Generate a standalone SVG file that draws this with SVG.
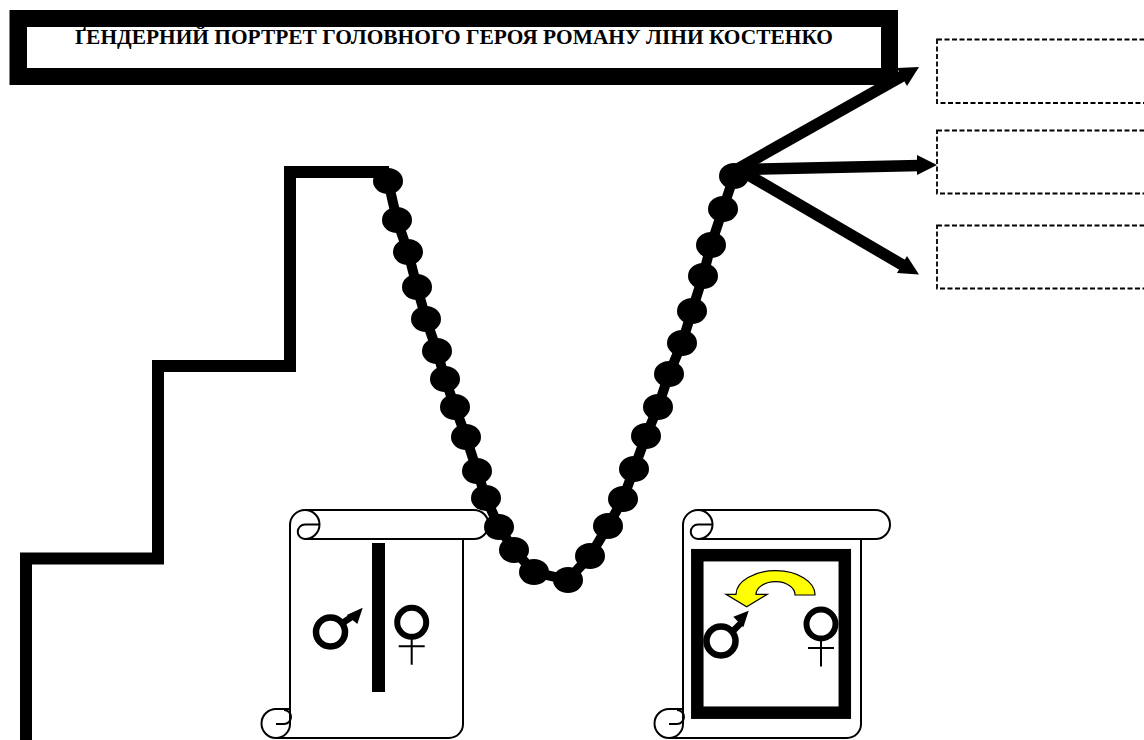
<svg xmlns="http://www.w3.org/2000/svg" width="1144" height="740" viewBox="0 0 1144 740">
<style>
.scroll{fill:#fff;stroke:#000;stroke-width:2;stroke-linejoin:round}
.curl{fill:none;stroke:#000;stroke-width:2}
.sym{fill:none;stroke:#000}
.bead{fill:#000}
.dash{fill:#fff;stroke:#000;stroke-width:1.8;stroke-dasharray:5 2.500}
.arrow{stroke:#000;stroke-width:11.500;fill:none}
.head{fill:#000}
</style>
<defs>
<g id="female"><circle cx="0" cy="0" r="14.500" class="sym" stroke-width="6"/><path d="M0 15V42.500M-13 24H13" class="sym" stroke-width="2"/></g>
</defs>
<rect width="1144" height="740" fill="#fff"/>
<g id="scroll-left">
<path class="scroll" d="M290 724V525A15 15 0 0 1 305 510H474A14.500 14.500 0 0 1 474 539H463V724A14 14 0 0 1 449 738H276A14.500 14.500 0 0 1 276 709H290"/>
<path class="curl" d="M305 510A14.500 14.500 0 0 1 305 539H474M305 539A7 7 0 0 1 305 524.500H319M290 709V724A14 14 0 0 1 276 738M276 724H284A7 7 0 0 0 284 710"/>
<rect x="372" y="543" width="13" height="149" fill="#000"/>
<g id="male-left"><circle cx="330.500" cy="632" r="14.500" class="sym" stroke-width="6.500"/><path d="M341 624L353 616" class="sym" stroke-width="6.500"/><polygon class="head" points="362.700,607.700 346.700,615 357.300,624"/></g>
<use href="#female" x="411.700" y="622.300"/>
</g>
<g id="scroll-right">
<path class="scroll" d="M683 724V525A15 15 0 0 1 698 510H875.500A14.500 14.500 0 0 1 875.500 539H861V724A14 14 0 0 1 847 738H669A14.500 14.500 0 0 1 669 709H683"/>
<path class="curl" d="M698 510A14.500 14.500 0 0 1 698 539H875.500M698 539A7 7 0 0 1 698 524.500H712M683 709V724A14 14 0 0 1 669 738M669 724H677A7 7 0 0 0 677 710"/>
<rect x="697.300" y="555.200" width="147.500" height="157.500" fill="none" stroke="#000" stroke-width="12.500"/>
<path d="M746.700 606.700L767.300 594.300H756A19.500 13 0 0 1 795 595H815A39.500 24 0 0 0 736 594.300H726Z" fill="#ffff00" stroke="#000" stroke-width="1.200"/>
<g id="male-right"><circle cx="721" cy="641" r="14.500" class="sym" stroke-width="6.500"/><path d="M732 632L742 622" class="sym" stroke-width="6.500"/><polygon class="head" points="748.700,610.700 733.300,616.700 743.300,627.300"/></g>
<use href="#female" x="821" y="624"/>
</g>
<g id="title">
<path fill-rule="evenodd" fill="#000" d="M9.500 10H898V85H9.500ZM27 27V68H881V27Z"/>
<text x="75" y="44" font-family="'Liberation Serif',serif" font-weight="700" font-size="20.500" textLength="758" lengthAdjust="spacingAndGlyphs" fill="#000">ҐЕНДЕРНИЙ ПОРТРЕТ ГОЛОВНОГО ГЕРОЯ РОМАНУ ЛІНИ КОСТЕНКО</text>
</g>
<g id="box-1"><rect class="dash" x="937" y="39.500" width="220" height="63.500"/></g>
<g id="box-2"><rect class="dash" x="937" y="130.500" width="220" height="63"/></g>
<g id="box-3"><rect class="dash" x="937" y="225.500" width="220" height="63"/></g>
<g id="connectors">
<path d="M26 740V558.500H158V366H290V172H389" fill="none" stroke="#000" stroke-width="12"/>
<polyline fill="none" stroke="#000" stroke-width="10" points="388,181 397,220 408,252 417,287 426,319 437,351 445,379 455,407 466,437 477,471 486,498 499,527 514,550 534,572 568,580 590,556 608,526 623,499 634,469 646,436 658,407 669,374 682,343 692,311 703,276 711,245 723,209 734,176"/>
<g class="beads">
<ellipse class="bead" cx="388" cy="181" rx="15" ry="13"/><ellipse class="bead" cx="397" cy="220" rx="15" ry="13"/><ellipse class="bead" cx="408" cy="252" rx="15" ry="13"/><ellipse class="bead" cx="417" cy="287" rx="15" ry="13"/><ellipse class="bead" cx="426" cy="319" rx="15" ry="13"/><ellipse class="bead" cx="437" cy="351" rx="15" ry="13"/><ellipse class="bead" cx="445" cy="379" rx="15" ry="13"/><ellipse class="bead" cx="455" cy="407" rx="15" ry="13"/><ellipse class="bead" cx="466" cy="437" rx="15" ry="13"/><ellipse class="bead" cx="477" cy="471" rx="15" ry="13"/><ellipse class="bead" cx="486" cy="498" rx="15" ry="13"/><ellipse class="bead" cx="499" cy="527" rx="15" ry="13"/><ellipse class="bead" cx="514" cy="550" rx="15" ry="13"/><ellipse class="bead" cx="534" cy="572" rx="15" ry="13"/><ellipse class="bead" cx="568" cy="580" rx="15" ry="13"/><ellipse class="bead" cx="590" cy="556" rx="15" ry="13"/><ellipse class="bead" cx="608" cy="526" rx="15" ry="13"/><ellipse class="bead" cx="623" cy="499" rx="15" ry="13"/><ellipse class="bead" cx="634" cy="469" rx="15" ry="13"/><ellipse class="bead" cx="646" cy="436" rx="15" ry="13"/><ellipse class="bead" cx="658" cy="407" rx="15" ry="13"/><ellipse class="bead" cx="669" cy="374" rx="15" ry="13"/><ellipse class="bead" cx="682" cy="343" rx="15" ry="13"/><ellipse class="bead" cx="692" cy="311" rx="15" ry="13"/><ellipse class="bead" cx="703" cy="276" rx="15" ry="13"/><ellipse class="bead" cx="711" cy="245" rx="15" ry="13"/><ellipse class="bead" cx="723" cy="209" rx="15" ry="13"/><ellipse class="bead" cx="734" cy="176" rx="15" ry="13"/>
</g>
<path class="arrow" d="M734 171L905 74.500"/><polygon class="head" points="919,67 897,68 907,86"/>
<path class="arrow" d="M740 169.500L920 165.500"/><polygon class="head" points="937,165 917,155 917,175"/>
<path class="arrow" d="M745 173L906 267"/><polygon class="head" points="919,274.500 897,273 907,256"/>
</g>
</svg>
